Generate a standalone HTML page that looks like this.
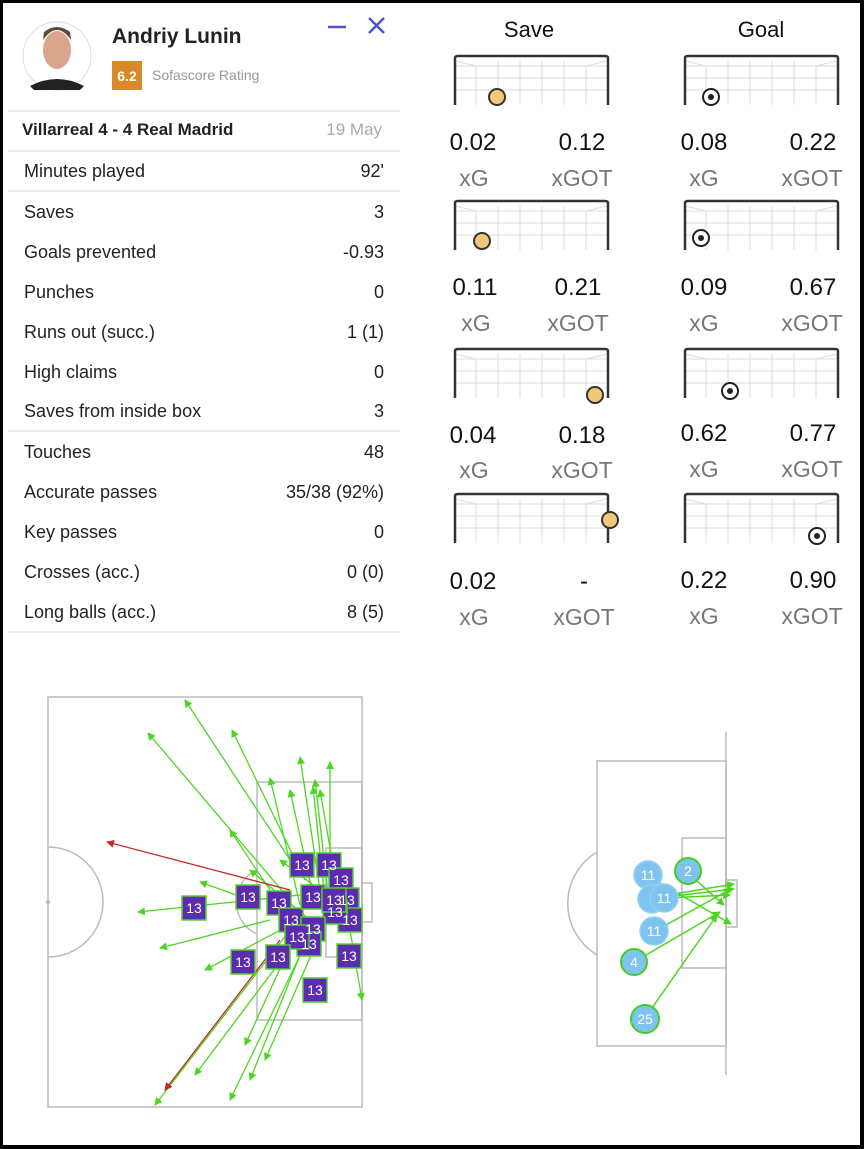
<!DOCTYPE html>
<html><head><meta charset="utf-8"><style>
body{margin:0;width:864px;height:1149px;background:#000;font-family:"Liberation Sans",sans-serif;overflow:hidden}
#f{position:absolute;left:3px;top:3px;width:857px;height:1142px;background:#fff}
</style></head><body><div id="f"></div>
<svg width="864" height="1149" style="position:absolute;left:0;top:0" font-family="Liberation Sans, sans-serif">
<defs>
<marker id="ag" markerWidth="8" markerHeight="8" refX="7" refY="4" orient="auto" markerUnits="userSpaceOnUse"><path d="M0,0L8,4L0,8z" fill="#4cd620"/></marker>
<marker id="ar" markerWidth="8" markerHeight="8" refX="7" refY="4" orient="auto" markerUnits="userSpaceOnUse"><path d="M0,0L8,4L0,8z" fill="#c62828"/></marker>
</defs>
<circle cx="57" cy="56" r="34" fill="#fff" stroke="#ddd"/>
<ellipse cx="57" cy="50" rx="14" ry="19" fill="#d9a58c"/>
<path d="M43,40 Q57,20 71,40 L70,32 Q57,22 44,32z" fill="#5a4a3e"/>
<path d="M30,86 Q57,72 84,86 L80,90 L34,90z" fill="#222"/>
<text x="112" y="43" font-size="21" font-weight="bold" fill="#222">Andriy Lunin</text>
<rect x="112" y="61" width="30" height="29" fill="#d98a27"/>
<text x="127" y="81" font-size="14" font-weight="bold" fill="#fff" text-anchor="middle">6.2</text>
<text x="152" y="80" font-size="14" fill="#999">Sofascore Rating</text>
<line x1="328" y1="27" x2="346" y2="27" stroke="#4a55c8" stroke-width="2.5"/>
<path d="M369,18L384,33M384,18L369,33" stroke="#4a55c8" stroke-width="2.5"/>
<g stroke="#ddd"><line x1="8" y1="111" x2="400" y2="111"/><line x1="8" y1="151" x2="400" y2="151"/><line x1="8" y1="191" x2="400" y2="191"/><line x1="8" y1="431" x2="400" y2="431"/><line x1="8" y1="632" x2="400" y2="632"/></g>
<text x="22" y="135" font-size="17" font-weight="bold" fill="#222">Villarreal 4 - 4 Real Madrid</text>
<text x="382" y="135" font-size="17" fill="#aaa" text-anchor="end">19 May</text>
<g font-size="18" fill="#222">
<text x="24" y="177">Minutes played</text><text x="384" y="177" text-anchor="end">92'</text>
<text x="24" y="218">Saves</text><text x="384" y="218" text-anchor="end">3</text>
<text x="24" y="258">Goals prevented</text><text x="384" y="258" text-anchor="end">-0.93</text>
<text x="24" y="298">Punches</text><text x="384" y="298" text-anchor="end">0</text>
<text x="24" y="338">Runs out (succ.)</text><text x="384" y="338" text-anchor="end">1 (1)</text>
<text x="24" y="378">High claims</text><text x="384" y="378" text-anchor="end">0</text>
<text x="24" y="417">Saves from inside box</text><text x="384" y="417" text-anchor="end">3</text>
<text x="24" y="458">Touches</text><text x="384" y="458" text-anchor="end">48</text>
<text x="24" y="498">Accurate passes</text><text x="384" y="498" text-anchor="end">35/38 (92%)</text>
<text x="24" y="538">Key passes</text><text x="384" y="538" text-anchor="end">0</text>
<text x="24" y="578">Crosses (acc.)</text><text x="384" y="578" text-anchor="end">0 (0)</text>
<text x="24" y="618">Long balls (acc.)</text><text x="384" y="618" text-anchor="end">8 (5)</text>
</g>
<text x="529" y="37" font-size="22" fill="#111" text-anchor="middle">Save</text>
<text x="761" y="37" font-size="22" fill="#111" text-anchor="middle">Goal</text>
<g id="gl">
<g stroke="#ddd" stroke-width="1" fill="none">
<path d="M455,66H607M455,78H607M455,90H607M476,66V105M498,61V105M520,61V105M542,61V105M564,61V105M586,66V105M455,61L476,66M607,61L586,66"/>
</g>
<path d="M455,105V58Q455,56 458,56H605Q608,56 608,58V105" fill="none" stroke="#333" stroke-width="2.5"/>
</g>
<use href="#gl" x="230" y="0"/>
<use href="#gl" y="145"/><use href="#gl" x="230" y="145"/>
<use href="#gl" y="293"/><use href="#gl" x="230" y="293"/>
<use href="#gl" y="438"/><use href="#gl" x="230" y="438"/>
<g fill="#f0c877" stroke="#333" stroke-width="2">
<circle cx="497" cy="97" r="8"/><circle cx="482" cy="241" r="8"/><circle cx="595" cy="395" r="8"/><circle cx="610" cy="520" r="8"/>
</g>
<g fill="#fff" stroke="#222" stroke-width="2">
<circle cx="711" cy="97" r="8"/><circle cx="701" cy="238" r="8"/><circle cx="730" cy="391" r="8"/><circle cx="817" cy="536" r="8"/>
</g>
<g fill="#222"><circle cx="711" cy="97" r="3"/><circle cx="701" cy="238" r="3"/><circle cx="730" cy="391" r="3"/><circle cx="817" cy="536" r="3"/></g>
<g font-size="24" fill="#111" text-anchor="middle">
<text x="473" y="150">0.02</text><text x="582" y="150">0.12</text><text x="704" y="150">0.08</text><text x="813" y="150">0.22</text>
<text x="475" y="295">0.11</text><text x="578" y="295">0.21</text><text x="704" y="295">0.09</text><text x="813" y="295">0.67</text>
<text x="473" y="443">0.04</text><text x="582" y="443">0.18</text><text x="704" y="441">0.62</text><text x="813" y="441">0.77</text>
<text x="473" y="589">0.02</text><text x="584" y="589">-</text><text x="704" y="588">0.22</text><text x="813" y="588">0.90</text>
</g>
<g font-size="23" fill="#777" text-anchor="middle">
<text x="474" y="186">xG</text><text x="582" y="186">xGOT</text><text x="704" y="186">xG</text><text x="812" y="186">xGOT</text>
<text x="476" y="331">xG</text><text x="578" y="331">xGOT</text><text x="704" y="331">xG</text><text x="812" y="331">xGOT</text>
<text x="474" y="478">xG</text><text x="582" y="478">xGOT</text><text x="704" y="477">xG</text><text x="812" y="477">xGOT</text>
<text x="474" y="625">xG</text><text x="584" y="625">xGOT</text><text x="704" y="624">xG</text><text x="812" y="624">xGOT</text>
</g>
<g fill="none" stroke="#bbb" stroke-width="1.5">
<rect x="48" y="697" width="314" height="410"/>
<path d="M48,847A55,55 0 0 1 48,957"/>
<rect x="257" y="782" width="105" height="238"/>
<rect x="326" y="848" width="36" height="109"/>
<rect x="362" y="883" width="10" height="39"/>
<path d="M257,870A35,35 0 0 0 257,934"/>
</g>
<circle cx="48" cy="902" r="2" fill="#bbb"/>
<g stroke="#4cd620" stroke-width="1.3" marker-end="url(#ag)">
<line x1="300" y1="875" x2="185" y2="700"/><line x1="290" y1="900" x2="148" y2="733"/><line x1="305" y1="880" x2="232" y2="730"/>
<line x1="320" y1="890" x2="300" y2="757"/><line x1="330" y1="900" x2="330" y2="762"/><line x1="325" y1="900" x2="313" y2="787"/>
<line x1="300" y1="905" x2="270" y2="778"/><line x1="315" y1="905" x2="290" y2="790"/><line x1="280" y1="905" x2="230" y2="830"/>
<line x1="300" y1="895" x2="138" y2="912"/><line x1="270" y1="920" x2="160" y2="948"/><line x1="290" y1="925" x2="205" y2="970"/>
<line x1="290" y1="930" x2="155" y2="1105"/><line x1="300" y1="935" x2="195" y2="1075"/><line x1="310" y1="935" x2="230" y2="1100"/>
<line x1="310" y1="930" x2="250" y2="1080"/><line x1="320" y1="935" x2="265" y2="1060"/><line x1="300" y1="925" x2="245" y2="1045"/>
<line x1="310" y1="920" x2="250" y2="870"/><line x1="330" y1="910" x2="315" y2="780"/><line x1="340" y1="905" x2="320" y2="790"/>
<line x1="250" y1="900" x2="200" y2="882"/><line x1="350" y1="930" x2="362" y2="1000"/><line x1="320" y1="890" x2="280" y2="860"/>
</g>
<g stroke="#c62828" stroke-width="1.3" marker-end="url(#ar)">
<line x1="290" y1="890" x2="107" y2="842"/><line x1="280" y1="940" x2="165" y2="1090"/>
</g>
<g fill="#5b2bb0" stroke="#55d030" stroke-width="1.5">
<rect x="290" y="853" width="24" height="24"/><rect x="317" y="853" width="24" height="24"/><rect x="329" y="868" width="24" height="24"/>
<rect x="335" y="888" width="24" height="24"/><rect x="338" y="908" width="24" height="24"/><rect x="323" y="900" width="24" height="24"/>
<rect x="236" y="885" width="24" height="24"/><rect x="182" y="896" width="24" height="24"/><rect x="267" y="891" width="24" height="24"/>
<rect x="279" y="908" width="24" height="24"/><rect x="301" y="917" width="24" height="24"/><rect x="297" y="932" width="24" height="24"/>
<rect x="285" y="925" width="24" height="24"/><rect x="301" y="885" width="24" height="24"/><rect x="322" y="888" width="24" height="24"/>
<rect x="231" y="950" width="24" height="24"/><rect x="266" y="945" width="24" height="24"/><rect x="337" y="944" width="24" height="24"/>
<rect x="303" y="978" width="24" height="24"/>
</g>
<g font-size="14" fill="#fff" text-anchor="middle">
<text x="302" y="870">13</text><text x="329" y="870">13</text><text x="341" y="885">13</text><text x="347" y="905">13</text><text x="350" y="925">13</text>
<text x="335" y="917">13</text><text x="248" y="902">13</text><text x="194" y="913">13</text><text x="279" y="908">13</text><text x="291" y="925">13</text>
<text x="313" y="934">13</text><text x="309" y="949">13</text><text x="297" y="942">13</text><text x="313" y="902">13</text><text x="334" y="905">13</text>
<text x="243" y="967">13</text><text x="278" y="962">13</text><text x="349" y="961">13</text><text x="315" y="995">13</text>
</g>
<g fill="none" stroke="#bbb" stroke-width="1.5">
<line x1="726" y1="732" x2="726" y2="1075"/>
<rect x="597" y="761" width="129" height="285"/>
<rect x="682" y="838" width="44" height="130"/>
<rect x="726" y="880" width="11" height="47"/>
<path d="M597,852A60,60 0 0 0 597,955"/>
</g>
<g stroke="#4cd620" stroke-width="1.5" marker-end="url(#ag)">
<line x1="660" y1="883" x2="731" y2="924"/><line x1="662" y1="896" x2="734" y2="884"/><line x1="665" y1="897" x2="734" y2="889"/>
<line x1="688" y1="873" x2="724" y2="905"/><line x1="655" y1="931" x2="731" y2="889"/><line x1="634" y1="962" x2="720" y2="912"/>
<line x1="645" y1="1018" x2="717" y2="915"/><line x1="665" y1="898" x2="730" y2="895"/>
</g>
<g fill="#7fc4ee" stroke="#8ecff2" stroke-width="1.5">
<circle cx="648" cy="875" r="14"/><circle cx="652" cy="899" r="14"/><circle cx="664" cy="898" r="14"/><circle cx="654" cy="931" r="14"/>
</g>
<g fill="#7fc4ee" stroke="#46cc2a" stroke-width="2">
<circle cx="688" cy="871" r="13"/><circle cx="634" cy="962" r="13"/><circle cx="645" cy="1019" r="14"/>
</g>
<g font-size="14" fill="#fff" text-anchor="middle">
<text x="648" y="880">11</text><text x="664" y="903">11</text><text x="654" y="936">11</text><text x="688" y="876">2</text><text x="634" y="967">4</text><text x="645" y="1024">25</text>
</g>
</svg>
</body></html>
